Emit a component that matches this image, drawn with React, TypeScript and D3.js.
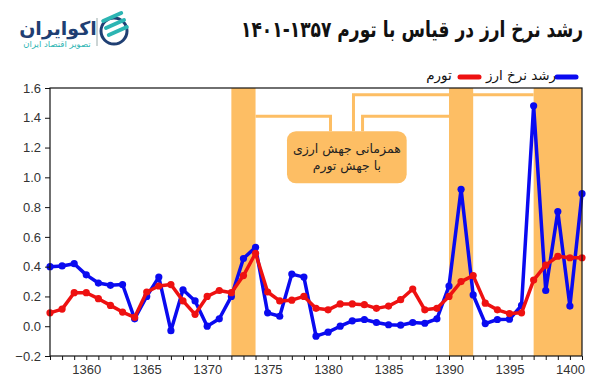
import React, { useEffect, useRef } from 'react';
import * as d3 from 'd3';

// سال‌ها (هجری شمسی)
const years = [
  1357, 1358, 1359, 1360, 1361, 1362, 1363, 1364, 1365, 1366, 1367, 1368, 1369, 1370, 1371,
  1372, 1373, 1374, 1375, 1376, 1377, 1378, 1379, 1380, 1381, 1382, 1383, 1384, 1385, 1386,
  1387, 1388, 1389, 1390, 1391, 1392, 1393, 1394, 1395, 1396, 1397, 1398, 1399, 1400, 1401,
];

// رشد نرخ ارز
const fxGrowth = [
  0.40, 0.405, 0.42, 0.345, 0.29, 0.275, 0.28, 0.05, 0.20, 0.33, -0.03, 0.245, 0.17, 0.0, 0.05,
  0.20, 0.455, 0.53, 0.09, 0.067, 0.35, 0.33, -0.067, -0.04, 0.0, 0.036, 0.045, 0.025, 0.01, 0.007,
  0.025, 0.02, 0.05, 0.27, 0.92, 0.21, 0.018, 0.045, 0.047, 0.14, 1.48, 0.24, 0.77, 0.135, 0.89,
];

// تورم
const inflation = [
  0.09, 0.115, 0.225, 0.225, 0.185, 0.14, 0.095, 0.06, 0.23, 0.27, 0.28, 0.17, 0.08, 0.20, 0.24,
  0.225, 0.34, 0.49, 0.23, 0.17, 0.175, 0.20, 0.12, 0.11, 0.15, 0.15, 0.145, 0.12, 0.135, 0.178,
  0.25, 0.11, 0.12, 0.20, 0.30, 0.34, 0.155, 0.11, 0.085, 0.09, 0.31, 0.41, 0.47, 0.46, 0.46,
];

// دوره‌های همزمانی جهش ارزی با جهش تورم
const bands = [
  [1372, 1374],
  [1390, 1392],
  [1397, 1401],
];

const yTicks = [-0.2, 0, 0.2, 0.4, 0.6, 0.8, 1.0, 1.2, 1.4, 1.6];
const xLabelEvery = 5;

const title = 'رشد نرخ ارز در قیاس با تورم ۱۳۵۷-۱۴۰۱';
const noteLines = ['همزمانی جهش ارزی', 'با جهش تورم'];

const BLUE = '#0a0af0';
const RED = '#ee1111';
const ORANGE = '#fdbe64';
const FA = '"DejaVu Sans", "Noto Sans", sans-serif';
const FA_COND = '"DejaVu Sans Condensed", "DejaVu Sans", sans-serif';

export default function App() {
  const ref = useRef<SVGSVGElement | null>(null);

  useEffect(() => {
    const width = 607,
      height = 388;
    const m = { left: 50, right: 25, top: 88, bottom: 32 };

    const svg = d3.select(ref.current);
    svg.selectAll('*').remove();

    const x = d3
      .scaleLinear()
      .domain([1357, 1401])
      .range([m.left, width - m.right]);

    const y = d3
      .scaleLinear()
      .domain([-0.2, 1.6])
      .range([height - m.bottom, m.top]);

    // bands
    svg
      .append('g')
      .selectAll('rect')
      .data(bands)
      .join('rect')
      .attr('x', (d) => x(d[0]))
      .attr('width', (d) => x(d[1]) - x(d[0]))
      .attr('y', y(1.6))
      .attr('height', y(-0.2) - y(1.6))
      .attr('fill', ORANGE);

    // annotation connectors (in data units)
    const conn = svg.append('g').attr('stroke', ORANGE).attr('stroke-width', 3).attr('fill', 'none');
    const boxTop = 1.31;
    const path = (pts: number[][]) => d3.line()(pts.map((p) => [x(p[0]), y(p[1])]) as [number, number][]);
    conn.append('path').attr('d', path([[1374, 1.41], [1380.2, 1.41], [1380.2, boxTop]]));
    conn.append('path').attr('d', path([[1397, 1.555], [1382.1, 1.555], [1382.1, boxTop]]));
    conn.append('path').attr('d', path([[1390, 1.41], [1382.85, 1.41], [1382.85, boxTop]]));

    // annotation box
    const bx0 = x(1376.6),
      bx1 = x(1386.5),
      by0 = y(boxTop),
      by1 = y(0.96);
    svg
      .append('rect')
      .attr('x', bx0)
      .attr('y', by0)
      .attr('width', bx1 - bx0)
      .attr('height', by1 - by0)
      .attr('rx', 9)
      .attr('fill', ORANGE);
    svg
      .append('g')
      .selectAll('text')
      .data(noteLines)
      .join('text')
      .attr('x', (bx0 + bx1) / 2)
      .attr('y', (d, i) => by0 + 22 + i * 17)
      .attr('text-anchor', 'middle')
      .attr('direction', 'rtl')
      .attr('font-family', FA)
      .attr('font-size', 12.5)
      .attr('fill', '#222')
      .text((d) => d);

    // lines
    const line = d3
      .line<number>()
      .x((d, i) => x(years[i]))
      .y((d) => y(d));

    const series = [
      { values: fxGrowth, color: BLUE },
      { values: inflation, color: RED },
    ];
    series.forEach((s) => {
      const g = svg.append('g');
      g.append('path')
        .attr('d', line(s.values))
        .attr('fill', 'none')
        .attr('stroke', s.color)
        .attr('stroke-width', 3.5)
        .attr('stroke-linejoin', 'round');
      g.selectAll('circle')
        .data(s.values)
        .join('circle')
        .attr('cx', (d, i) => x(years[i]))
        .attr('cy', (d) => y(d))
        .attr('r', 3.6)
        .attr('fill', s.color);
    });

    // frame
    svg
      .append('rect')
      .attr('x', m.left)
      .attr('y', m.top)
      .attr('width', width - m.left - m.right)
      .attr('height', height - m.top - m.bottom)
      .attr('fill', 'none')
      .attr('stroke', '#111')
      .attr('stroke-width', 1.2);

    // axes
    const yAxis = svg
      .append('g')
      .attr('transform', `translate(${m.left},0)`)
      .call(d3.axisLeft(y).tickValues(yTicks).tickFormat(d3.format('.1f')).tickSize(5).tickSizeOuter(0));
    const xAxis = svg
      .append('g')
      .attr('transform', `translate(0,${height - m.bottom})`)
      .call(
        d3
          .axisBottom(x)
          .tickValues(years)
          .tickFormat((d) => ((d as number) % xLabelEvery === 0 ? String(d) : ''))
          .tickSize(4)
          .tickSizeOuter(0)
      );
    [yAxis, xAxis].forEach((a) => {
      a.select('.domain').remove();
      a.selectAll('line').attr('stroke', '#111');
      a.selectAll('text')
        .attr('font-family', 'Arial, "Liberation Sans", sans-serif')
        .attr('font-size', 13)
        .attr('fill', '#333');
    });
    yAxis.selectAll('text').attr('x', -9);
    xAxis.selectAll('text').attr('y', 9);

    // legend
    const legend = [
      { label: 'رشد نرخ ارز', color: BLUE, sx: 557, tx: 521 },
      { label: 'تورم', color: RED, sx: 460, tx: 439 },
    ];
    const lg = svg.append('g');
    legend.forEach((l) => {
      lg.append('line')
        .attr('x1', l.sx)
        .attr('x2', l.sx + 19)
        .attr('y1', 77)
        .attr('y2', 77)
        .attr('stroke', l.color)
        .attr('stroke-width', 5)
        .attr('stroke-linecap', 'round');
      lg.append('text')
        .attr('x', l.tx)
        .attr('y', 80)
        .attr('text-anchor', 'middle')
        .attr('direction', 'rtl')
        .attr('font-family', FA)
        .attr('font-size', 13.5)
        .attr('fill', '#111')
        .text(l.label);
    });

    // title
    svg
      .append('text')
      .attr('x', 583)
      .attr('y', 37)
      .attr('text-anchor', 'start')
      .attr('direction', 'rtl')
      .attr('font-family', FA_COND)
      .attr('font-weight', 'bold')
      .attr('font-size', 22)
      .attr('textLength', 342)
      .attr('lengthAdjust', 'spacingAndGlyphs')
      .attr('fill', '#111')
      .text(title);

    // logo
    const logo = svg.append('g');
    logo.append('circle').attr('cx', 114).attr('cy', 31).attr('r', 13).attr('fill', 'none').attr('stroke', '#1f3f73').attr('stroke-width', 3);
    [-7, 0, 7].forEach((o) => {
      logo
        .append('line')
        .attr('x1', 106 + o * 0.4)
        .attr('y1', 28 + o)
        .attr('x2', 124 + o * 0.4)
        .attr('y2', 20 + o)
        .attr('stroke', '#2cb5b3')
        .attr('stroke-width', 4)
        .attr('stroke-linecap', 'round');
    });
    logo.append('line').attr('x1', 97).attr('x2', 97).attr('y1', 18).attr('y2', 46).attr('stroke', '#9aa').attr('stroke-width', 1);
    logo
      .append('text')
      .attr('x', 58)
      .attr('y', 35)
      .attr('text-anchor', 'middle')
      .attr('direction', 'rtl')
      .attr('font-family', FA)
      .attr('font-weight', 'bold')
      .attr('font-size', 19)
      .attr('fill', '#1f3f73')
      .text('اکوایران');
    logo
      .append('text')
      .attr('x', 57)
      .attr('y', 47)
      .attr('text-anchor', 'middle')
      .attr('direction', 'rtl')
      .attr('font-family', FA)
      .attr('font-size', 8.5)
      .attr('fill', '#2cb5b3')
      .text('تصویر اقتصاد ایران');
  }, []);

  return (
    <svg
      ref={ref}
      width={607}
      height={388}
      style={{ position: 'absolute', left: 0, top: 0, background: '#fff' }}
    />
  );
}
